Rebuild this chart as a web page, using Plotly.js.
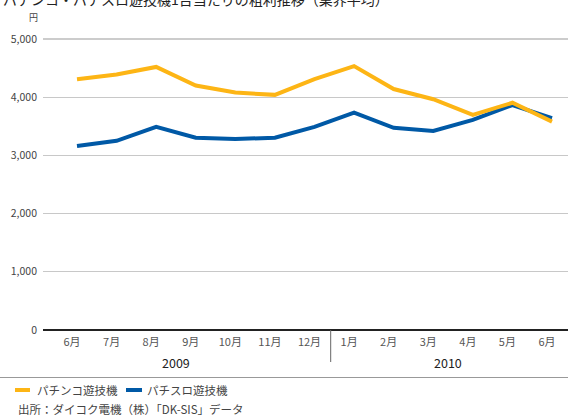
<!DOCTYPE html>
<html>
<head>
<meta charset="utf-8">
<script src="https://cdn.plot.ly/plotly-3.0.1.min.js"></script>
<style>html,body{margin:0;padding:0;background:#fff;}#chart{width:568px;height:418px;}</style>
</head>
<body>
<div id="chart"></div>
<script>
var months = ["6月","7月","8月","9月","10月","11月","12月","1月","2月","3月","4月","5月","6月"];
var years = ["2009","2010"];
var pachinko = [4310, 4390, 4520, 4200, 4080, 4040, 4310, 4535, 4140, 3965, 3695, 3905, 3580];
var pachislot = [3160, 3250, 3490, 3305, 3280, 3305, 3490, 3735, 3475, 3420, 3610, 3865, 3640];
var seriesNames = ["パチンコ遊技機","パチスロ遊技機"];
var yTicks = [0, 1000, 2000, 3000, 4000, 5000];
var yTickText = ["0","1,000","2,000","3,000","4,000","5,000"];

var FONT = "'Noto Sans CJK JP', 'Noto Sans', sans-serif";
var ORANGE = "#FDB515", BLUE = "#0059A6";
var L = 43, T = 39, W = 525, H = 291;
function px(x){ return (x - L) / W; }
function py(y){ return (T + H - y) / H; }

var idx = months.map(function(_, i){ return i; });

var traces = [
  {x: idx, y: pachislot, name: seriesNames[1], type: "scatter", mode: "lines",
   line: {color: BLUE, width: 4}, hoverinfo: "skip"},
  {x: idx, y: pachinko, name: seriesNames[0], type: "scatter", mode: "lines",
   line: {color: ORANGE, width: 4}, hoverinfo: "skip"}
];

var annotations = [
  {text: "円", x: px(33), y: py(17), xref: "paper", yref: "paper", showarrow: false,
   xanchor: "center", yanchor: "middle", font: {family: FONT, size: 9, color: "#444"}},
  {text: years[0], x: px(176), y: py(362), xref: "paper", yref: "paper", showarrow: false,
   xanchor: "center", yanchor: "middle", font: {family: FONT, size: 12.5, color: "#222"}},
  {text: years[1], x: px(448), y: py(362), xref: "paper", yref: "paper", showarrow: false,
   xanchor: "center", yanchor: "middle", font: {family: FONT, size: 12.5, color: "#222"}},
  {text: seriesNames[0], x: px(35), y: py(390), xref: "paper", yref: "paper", showarrow: false,
   xanchor: "left", yanchor: "middle", font: {family: FONT, size: 11.5, color: "#444"}},
  {text: seriesNames[1], x: px(145), y: py(390), xref: "paper", yref: "paper", showarrow: false,
   xanchor: "left", yanchor: "middle", font: {family: FONT, size: 11.5, color: "#444"}},
  {text: "出所：ダイコク電機（株）「DK-SIS」データ", x: px(16), y: py(408.5), xref: "paper", yref: "paper", showarrow: false,
   xanchor: "left", yanchor: "middle", font: {family: FONT, size: 11.5, color: "#444"}}
];

var shapes = [
  {type: "line", xref: "paper", yref: "paper", x0: px(330.7), x1: px(330.7), y0: py(330), y1: py(362),
   line: {color: "#666", width: 1}},
  {type: "line", xref: "paper", yref: "paper", x0: px(0), x1: px(568), y0: py(377.5), y1: py(377.5),
   line: {color: "#999", width: 1}},
  {type: "line", xref: "paper", yref: "paper", x0: px(15), x1: px(30), y0: py(390), y1: py(390),
   line: {color: ORANGE, width: 4}},
  {type: "line", xref: "paper", yref: "paper", x0: px(126), x1: px(142), y0: py(390), y1: py(390),
   line: {color: BLUE, width: 4}},
  {type: "line", xref: "paper", yref: "paper", x0: 0, x1: 1, y0: 1, y1: 1,
   line: {color: "#999", width: 1}}
];

var layout = {
  width: 568, height: 418,
  margin: {l: L, r: 0, t: T, b: 418 - T - H, pad: 0},
  paper_bgcolor: "#fff", plot_bgcolor: "#fff",
  showlegend: false,
  title: {text: "パチンコ・パチスロ遊技機1台当たりの粗利推移（業界平均）",
    xref: "container", yref: "container", x: 3/568, xanchor: "left", y: 1 - 0.5/418, yanchor: "middle",
    font: {family: FONT, size: 14, color: "#222"}},
  xaxis: {
    range: [-(77 - L) / 39.58, 12 + (568 - 552) / 39.58],
    tickvals: idx, ticktext: months, ticks: "", showgrid: false, zeroline: false,
    showline: false, ticklabelshift: -5, ticklabelstandoff: 4,
    tickfont: {family: FONT, size: 11, color: "#555"}, fixedrange: true
  },
  yaxis: {
    range: [0, 5000], tickvals: yTicks, ticktext: yTickText, ticks: "",
    showgrid: true, gridcolor: "#c8c8c8", gridwidth: 1,
    zeroline: true, zerolinecolor: "#222", zerolinewidth: 1.5,
    showline: false, ticklabelstandoff: 5,
    tickfont: {family: FONT, size: 10.5, color: "#444"}, fixedrange: true
  },
  annotations: annotations,
  shapes: shapes
};

Plotly.newPlot("chart", traces, layout, {displayModeBar: false, staticPlot: true});
</script>
</body>
</html>
